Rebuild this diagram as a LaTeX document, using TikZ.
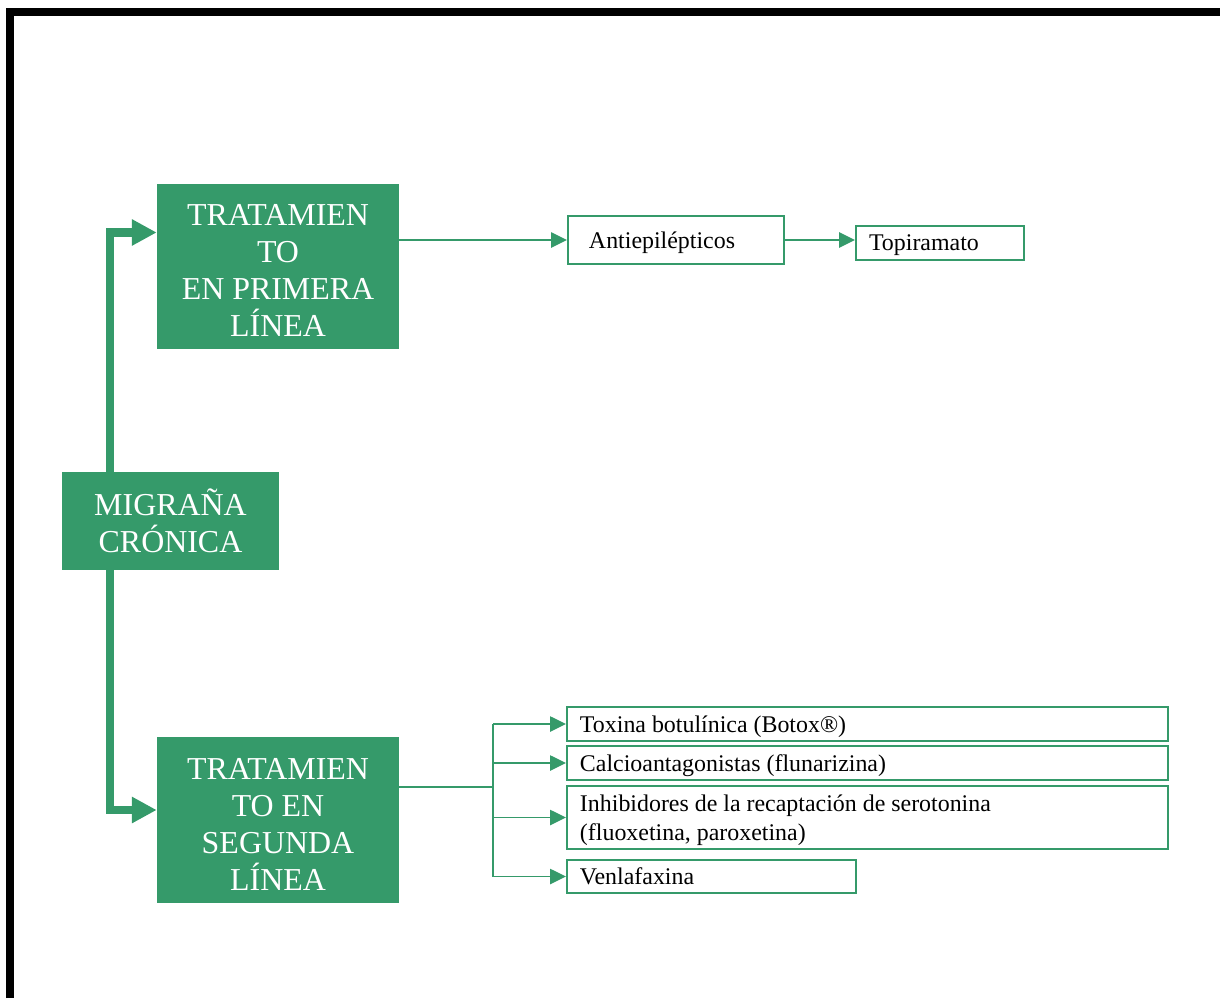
\documentclass[tikz,border=0pt]{standalone}
\usepackage{fontspec}
\setmainfont{Liberation Serif}
\usetikzlibrary{arrows.meta}
\definecolor{verde}{RGB}{53,154,106}
\tikzset{
    bloque/.style={fill=verde,text=white,align=center,inner sep=0pt,font=\fontsize{22.7}{26.3}\selectfont},
    caja/.style={draw=verde,line width=1.4pt,anchor=west,align=flush left,inner xsep=.325cm,inner ysep=0pt,font=\fontsize{17}{20.6}\selectfont},
    cajauna/.style={caja,text depth=0pt},
    linea/.style={verde,line width=1.4pt},
    flecha/.style={linea,-{Triangle[length=.4cm,width=.38cm]}},
    gruesa/.style={verde,line width=5.7pt,-{Triangle[length=.62cm,width=.62cm]}}
}
\newcommand{\bajar}{\rule{0pt}{20.7pt}}
\begin{document}
\begin{tikzpicture}[x=.025cm,y=-.025cm]
    \useasboundingbox (0,0) rectangle (1220,998);
    \draw[line width=5.7pt] (10,998) -- (10,12) -- (1220,12);
        \node[bloque,minimum width=5.425cm,minimum height=2.45cm] (mc) at (170.5,521) {MIGRAÑA\\CRÓNICA};
        \node[bloque,minimum width=6.05cm,minimum height=4.125cm] (p1) at (278,266.5) {\bajar TRATAMIEN\\TO\\EN PRIMERA\\LÍNEA};
        \node[bloque,minimum width=6.05cm,minimum height=4.15cm] (s2) at (278,820) {\bajar TRATAMIEN\\TO EN\\SEGUNDA\\LÍNEA};
        \node[cajauna,inner xsep=.525cm,text width=4.35cm,minimum height=1.2cm] (anti) at (567,240) {Antiepilépticos};
        \node[cajauna,text width=3.55cm,minimum height=.85cm] (topi) at (855,243) {Topiramato};
        \node[cajauna,text width=14.375cm,minimum height=.85cm] (toxina) at (566,724) {Toxina botulínica (Botox®)};
        \node[cajauna,text width=14.375cm,minimum height=.85cm] (calcio) at (566,763) {Calcioantagonistas (flunarizina)};
        \node[caja,text depth=20.6pt,text width=14.375cm,minimum height=1.575cm] (inhib) at (566,817.5) {Inhibidores de la recaptación de serotonina\\(fluoxetina, paroxetina)};
        \node[cajauna,text width=6.575cm,minimum height=.825cm] (venla) at (566,876.5) {Venlafaxina};
        \coordinate (rama) at (493,787);
        \draw[gruesa] ([xshift=-1.51cm]mc.north) |- ([yshift=.85cm]p1.west);
        \draw[gruesa] ([xshift=-1.51cm]mc.south) |- ([yshift=.25cm]s2.west);
        \draw[flecha] (p1.east |- anti.west) -- (anti.west);
        \draw[flecha] (anti.east) -- (anti.east -| topi.west);
        \draw[linea] (s2.east |- rama) -- (rama);
        \draw[linea] (rama |- toxina.west) -- (rama |- venla.west);
        \draw[flecha] (rama |- toxina.west) -- (toxina.west);
        \draw[flecha] (rama |- calcio.west) -- (calcio.west);
        \draw[flecha] (rama |- inhib.west) -- (inhib.west);
        \draw[flecha] (rama |- venla.west) -- (venla.west);
    \end{tikzpicture}
\end{document}
